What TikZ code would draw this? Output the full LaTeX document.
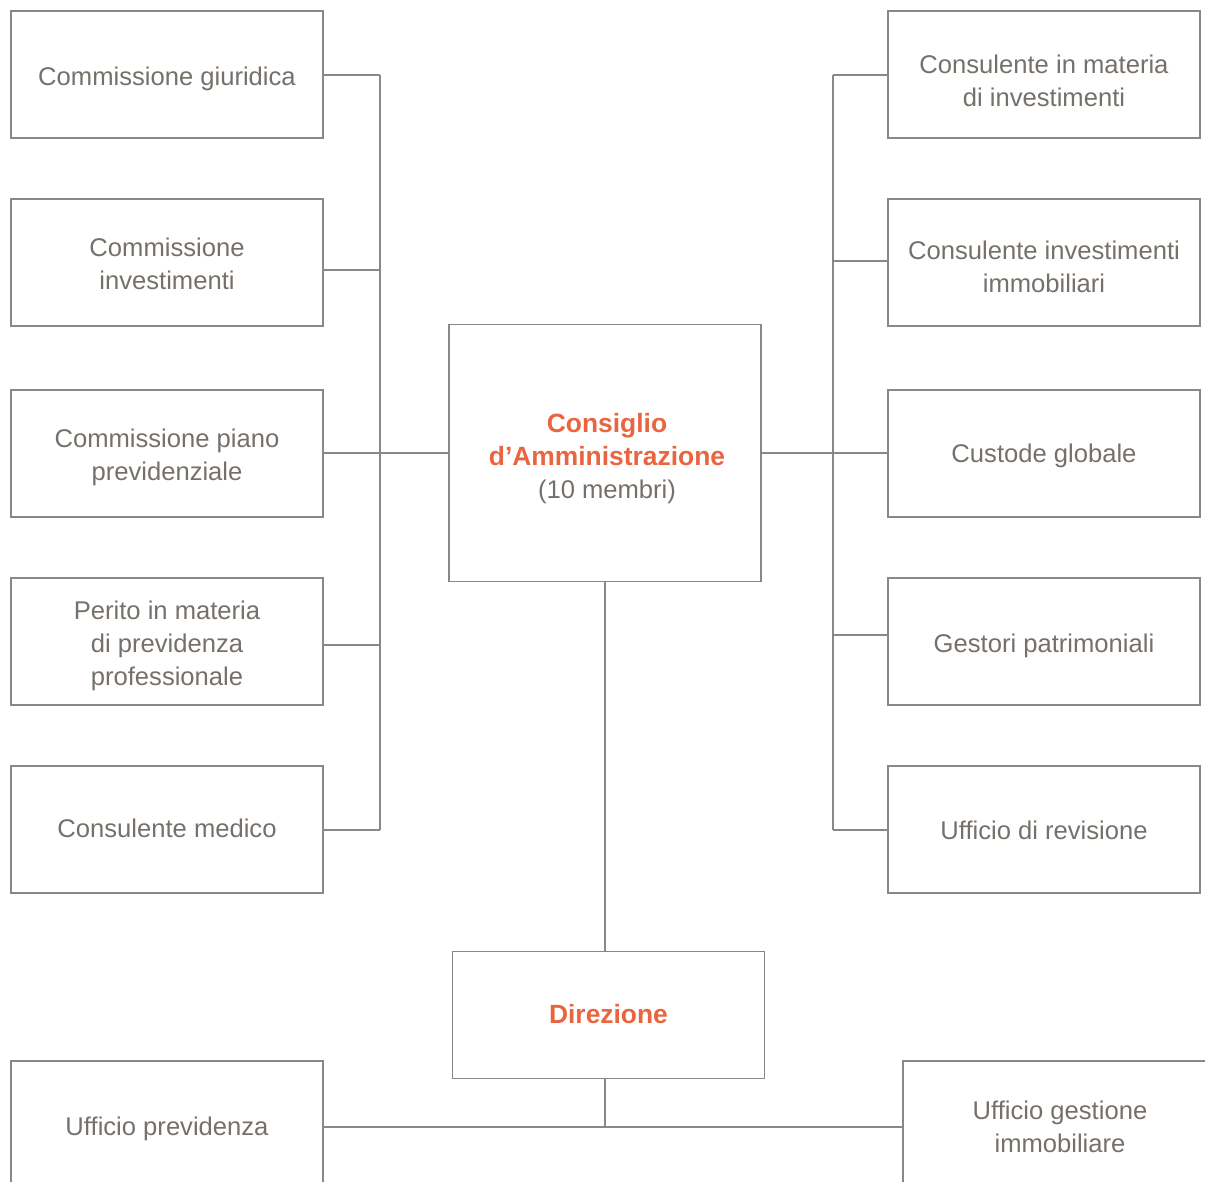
\documentclass[tikz,border=0pt]{standalone}
\usepackage{fontspec}
\setmainfont{Liberation Sans}
\definecolor{linec}{HTML}{8C8782}
\definecolor{textc}{HTML}{76706A}
\definecolor{orangec}{HTML}{E9643F}
\newcommand{\hlt}[1]{{\color{orangec}\bfseries\fontsize{26.4}{33}\selectfont #1}}
\tikzset{
  box/.style={draw=linec, line width=1.2pt, minimum width=312pt, minimum height=127pt, inner sep=0pt},
  conn/.style={draw=linec, line width=1.2pt},
  lbl/.style={text=textc, font=\fontsize{25.6}{33}\selectfont, align=center, inner sep=0pt}
}
\begin{document}
\begin{tikzpicture}[x=1pt,y=-1pt]
\useasboundingbox (0,0) rectangle (1205,1182);
\clip (0,0) rectangle (1205,1182);
% left column
\node[box, label={[lbl, yshift=-4pt]center:{Commissione giuridica}}] (l1) at (167,74.5) {};
\node[box, label={[lbl, yshift=-1.5pt]center:{Commissione\\investimenti}}] (l2) at (167,262.5) {};
\node[box, label={[lbl, yshift=-4pt]center:{Commissione piano\\previdenziale}}] (l3) at (167,453.5) {};
\node[box, label={[lbl, yshift=-4pt]center:{Perito in materia\\di previdenza\\professionale}}] (l4) at (167,641.5) {};
\node[box, label={[lbl, yshift=1pt]center:{Consulente medico}}] (l5) at (167,829.5) {};
% right column
\node[box, label={[lbl, yshift=-6.5pt]center:{Consulente in materia\\di investimenti}}] (r1) at (1044,74.5) {};
\node[box, label={[lbl, yshift=-4.5pt]center:{Consulente investimenti\\immobiliari}}] (r2) at (1044,262.5) {};
\node[box, label={[lbl, yshift=-2pt]center:{Custode globale}}] (r3) at (1044,453.5) {};
\node[box, label={[lbl, yshift=-4.5pt]center:{Gestori patrimoniali}}] (r4) at (1044,641.5) {};
\node[box, label={[lbl, yshift=-1pt]center:{Ufficio di revisione}}] (r5) at (1044,829.5) {};
% center
\node[box, minimum height=257pt, label={[lbl, yshift=-6pt, xshift=2pt]center:{\hlt{Consiglio}\\\hlt{d’Amministrazione}\\(10 membri)}}] (ca) at (605,453) {};
\node[box, label={[lbl, yshift=1pt]center:{\hlt{Direzione}}}] (dir) at (608.5,1015) {};
% bottom
\node[box, minimum height=160pt] (up) at (167,1141) {};
\node[lbl] (upt) at (167,1129) {Ufficio previdenza};
\node[box, minimum height=160pt, minimum width=330pt] (ug) at (1068,1141) {};
\node[lbl] (ugt) at (1060,1127) {Ufficio gestione\\immobiliare};
% bus coordinates
\coordinate (bl1) at (380,75);
\coordinate (bl2) at (380,270);
\coordinate (bl3) at (380,453);
\coordinate (bl4) at (380,645);
\coordinate (bl5) at (380,830);
\coordinate (br1) at (833,75);
\coordinate (br2) at (833,261);
\coordinate (br3) at (833,453);
\coordinate (br4) at (833,635);
\coordinate (br5) at (833,830);
\coordinate (jb) at (605,1127);
% left bus
\draw[conn] (bl1) -- (bl5);
\draw[conn] (l1.east |- bl1) -- (bl1);
\draw[conn] (l2.east |- bl2) -- (bl2);
\draw[conn] (l3.east |- bl3) -- (bl3);
\draw[conn] (l4.east |- bl4) -- (bl4);
\draw[conn] (l5.east |- bl5) -- (bl5);
\draw[conn] (bl3) -- (ca.west |- bl3);
% right bus
\draw[conn] (br1) -- (br5);
\draw[conn] (r1.west |- br1) -- (br1);
\draw[conn] (r2.west |- br2) -- (br2);
\draw[conn] (r3.west |- br3) -- (br3);
\draw[conn] (r4.west |- br4) -- (br4);
\draw[conn] (r5.west |- br5) -- (br5);
\draw[conn] (ca.east |- br3) -- (br3);
% vertical
\draw[conn] (ca.south) -- (dir.north -| ca.south);
\draw[conn] (dir.south -| jb) -- (jb);
\draw[conn] (up.east |- jb) -- (ug.west |- jb);
\end{tikzpicture}
\end{document}
